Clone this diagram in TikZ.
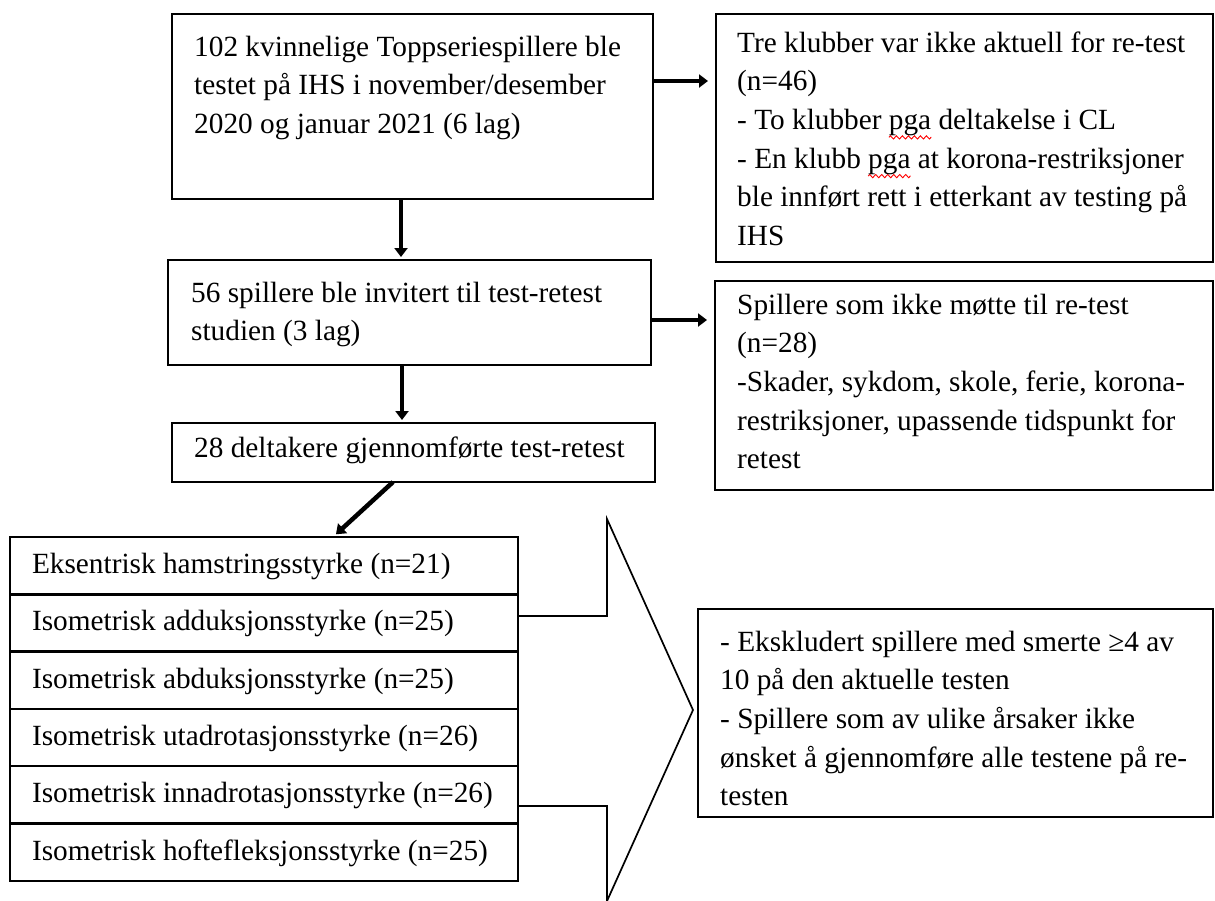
\documentclass[tikz,border=0pt]{standalone}
\usepackage{fontspec}
\setmainfont{Liberation Serif}
\usetikzlibrary{arrows.meta,decorations.pathmorphing}
\newcommand\spellchk[1]{\setbox0=\hbox{#1}\rlap{\tikz[overlay,baseline=0pt]\draw[red,line width=0.9pt,decorate,decoration={zigzag,segment length=6pt,amplitude=1.6pt}] (0pt,-8pt) -- (\the\wd0,-8pt);}\box0\relax}
\begin{document}
\begin{tikzpicture}[x=1pt,y=-1pt,
  frame/.style={draw,line width=2.4pt,inner sep=0pt,outer sep=0pt,anchor=north west},
  txt/.style={anchor=base west,inner sep=0pt,align=left,font=\fontsize{29.3}{38.7}\selectfont},
  row/.style={draw,line width=2.4pt,outer sep=0pt,anchor=north west,minimum width=508pt,minimum height=57.3pt,inner xsep=22pt,inner ysep=0pt,text height=22pt,text depth=6pt,font=\fontsize{29.3}{38.7}\selectfont},
  flow/.style={line width=4.5pt,-{Triangle[length=9pt,width=13pt]}},
  bigarrow/.style={line width=1.7pt,line join=miter}]
\useasboundingbox (0,0) rectangle (1215,900);

% big block arrow behind the list
\draw[bigarrow] (518,616) -- (607,616) -- (607,519) -- (693,710) -- (607,901) -- (607,806) -- (518,806);

% frames
\node[frame,minimum width=481pt,minimum height=185pt] (box1) at (172,14) {};
\node[frame,minimum width=483pt,minimum height=105pt] (box2) at (168,260) {};
\node[frame,minimum width=483pt,minimum height=59pt] (box3) at (172,423) {};
\node[frame,minimum width=497pt,minimum height=248pt] (r1) at (716,14) {};
\node[frame,minimum width=498pt,minimum height=209pt] (r2) at (715,281) {};
\node[frame,minimum width=515pt,minimum height=208pt] (r3) at (698,609) {};

% texts (anchor = baseline of the last line)
\node[txt] (t1) at (194,133.4) {102 kvinnelige Toppseriespillere ble\\testet på IHS i november/desember\\2020 og januar 2021 (6 lag)};
\node[txt] (t2) at (191,340.7) {56 spillere ble invitert til test-retest\\studien (3 lag)};
\node[txt] (t3) at (194,457) {28 deltakere gjennomførte test-retest};
\node[txt] (tr1) at (737,245.5) {Tre klubber var ikke aktuell for re-test\\(n=46)\\- To klubber \spellchk{pga} deltakelse i CL\\- En klubb \spellchk{pga} at korona-restriksjoner\\ble innført rett i etterkant av testing på\\IHS};
\node[txt] (tr2) at (737,468.8) {Spillere som ikke møtte til re-test\\(n=28)\\-Skader, sykdom, skole, ferie, korona-\\restriksjoner, upassende tidspunkt for\\retest};
\node[txt] (tr3) at (720,805.8) {- Ekskludert spillere med smerte ≥4 av\\10 på den aktuelle testen\\- Spillere som av ulike årsaker ikke\\ønsket å gjennomføre alle testene på re-\\testen};

% list rows
\node[row] (l1) at (10,537) {\makebox[464pt][l]{Eksentrisk hamstringsstyrke (n=21)}};
\node[row] (l2) at (10,594.3) {\makebox[464pt][l]{Isometrisk adduksjonsstyrke (n=25)}};
\node[row] (l3) at (10,651.6) {\makebox[464pt][l]{Isometrisk abduksjonsstyrke (n=25)}};
\node[row] (l4) at (10,708.9) {\makebox[464pt][l]{Isometrisk utadrotasjonsstyrke (n=26)}};
\node[row] (l5) at (10,766.2) {\makebox[464pt][l]{Isometrisk innadrotasjonsstyrke (n=26)}};
\node[row] (l6) at (10,823.5) {\makebox[464pt][l]{Isometrisk hoftefleksjonsstyrke (n=25)}};

% helper coordinates
\coordinate (p1) at (0,81);
\coordinate (p2) at (0,320);
\coordinate (q1) at (401,0);
\coordinate (q2) at (402,0);
\coordinate (d1) at (393,0);
\coordinate (d2) at (333,0);

% connectors
\draw[flow,shorten >=8pt] (box1.east |- p1) -- (r1.west |- p1);
\draw[flow,shorten >=8pt] (box2.east |- p2) -- (r2.west |- p2);
\draw[flow,shorten >=3pt] (box1.south -| q1) -- (box2.north -| q1);
\draw[flow,shorten >=3pt] (box2.south -| q2) -- (box3.north -| q2);
\draw[flow,shorten >=4pt] (box3.south -| d1) -- (l1.north -| d2);
\end{tikzpicture}
\end{document}
